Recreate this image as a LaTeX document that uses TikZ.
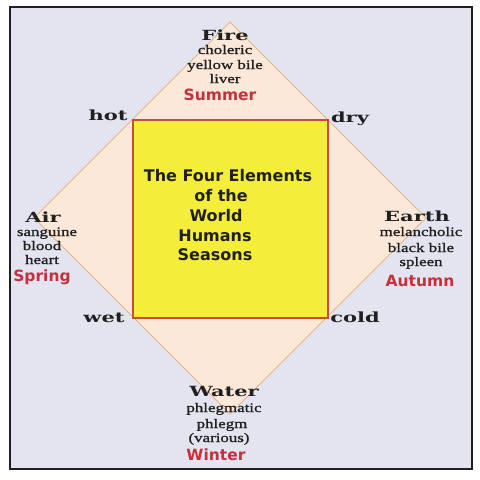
\documentclass[tikz,border=0pt]{standalone}
\usepackage{fontspec}
\usepackage{graphicx}
\setmainfont{Liberation Serif}
\newfontfamily\headfont{DejaVu Serif}[FakeStretch=1.5]
\newfontfamily\descfont{Liberation Serif}[FakeStretch=1.3,FakeBold=1.2]
\newfontfamily\boldsans{DejaVu Sans}
\definecolor{bgl}{HTML}{E4E4F0}
\definecolor{peach}{HTML}{FCE8D8}
\definecolor{tan}{HTML}{E2B78E}
\definecolor{sqred}{HTML}{C84A40}
\definecolor{sqyel}{HTML}{F4EE3A}
\definecolor{seasred}{HTML}{C4303C}
\definecolor{ink}{HTML}{202020}
\tikzset{
  head/.style={inner sep=0pt, text=ink, font=\headfont\bfseries\fontsize{14}{16}\selectfont, text height=10pt, text depth=0pt},
  qual/.style={inner sep=0pt, text=ink, font=\headfont\bfseries\fontsize{14}{16}\selectfont, text height=8pt, text depth=0pt},
  desc/.style={inner sep=0pt, text=ink, font=\descfont\fontsize{13}{15}\selectfont, text height=6pt, text depth=0pt},
  season/.style={inner sep=0pt, text=seasred, font=\boldsans\bfseries\fontsize{15.5}{18}\selectfont, text height=11pt, text depth=0pt},
  title/.style={inner sep=0pt, text=ink, font=\boldsans\bfseries\fontsize{16}{20}\selectfont, text height=11pt, text depth=0pt}
}
\begin{document}
\begin{tikzpicture}[x=1pt,y=-1pt]
\useasboundingbox (0,0) rectangle (480,480);
\fill[white] (0,0) rectangle (480,480);
\draw[line width=2.2pt, draw=ink, fill=bgl] (10,7) rectangle (472,469);
% diamond
\coordinate (T) at (230,22);
\coordinate (R) at (426,218);
\coordinate (B) at (230,414);
\coordinate (L) at (34,218);
\draw[tan, line width=1pt, fill=peach] (T) -- (R) -- (B) -- (L) -- cycle;
% square
\draw[sqred, line width=2pt, fill=sqyel] (133,120) rectangle (328,318);
% centre title
\node[title] (t1) at (228,176) {The Four Elements};
\node[title] (t2) at (221,196) {of the};
\node[title] (t3) at (216,216) {World};
\node[title] (t4) at (215,236) {Humans};
\node[title] (t5) at (215,255) {Seasons};
% qualities
\node[qual] (hot) at (108,116) {hot};
\node[qual] (dry) at (350,118) {dry};
\node[qual] (wet) at (104,318) {wet};
\node[qual] (cold) at (355,318) {cold};
% Fire
\node[head] (fire) at (225,35) {Fire};
\node[desc] (f1) at (225,51) {choleric};
\node[desc] (f2) at (225,66) {yellow bile};
\node[desc] (f3) at (225,80) {liver};
\node[season] (summer) at (220,95) {Summer};
% Air
\node[head] (air) at (43,217) {Air};
\node[desc] (a1) at (47,233) {sanguine};
\node[desc] (a2) at (42,247) {blood};
\node[desc] (a3) at (42,261) {heart};
\node[season] (spring) at (42,276) {Spring};
% Earth
\node[head] (earth) at (417,216) {Earth};
\node[desc] (e1) at (421,233) {melancholic};
\node[desc] (e2) at (421,249) {black bile};
\node[desc] (e3) at (421,263) {spleen};
\node[season] (autumn) at (420,281) {Autumn};
% Water
\node[head] (water) at (224,391) {Water};
\node[desc] (w1) at (224,409) {phlegmatic};
\node[desc] (w2) at (222,425) {phlegm};
\node[desc] (w3) at (219,439) {(various)};
\node[season] (winter) at (216,455) {Winter};
\end{tikzpicture}
\end{document}
